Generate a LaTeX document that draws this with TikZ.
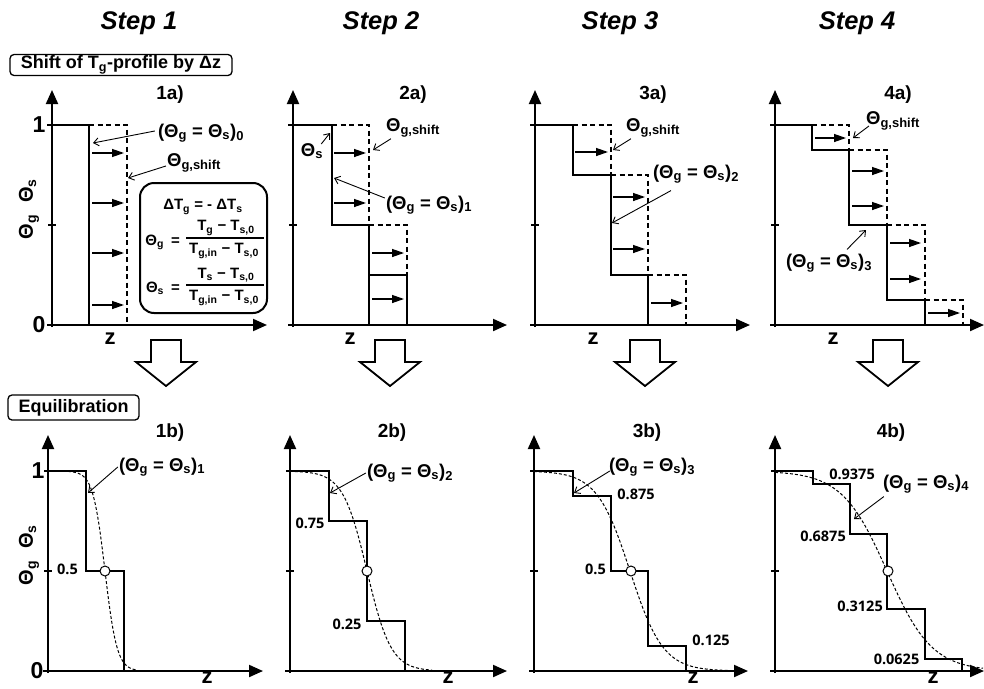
\documentclass[tikz,border=0pt]{standalone}
\usepackage{fontspec}
\setmainfont{Liberation Sans}
\newfontfamily\numfont{Open Sans}
\usetikzlibrary{arrows.meta,calc}
\newcommand{\sbs}[1]{\textsubscript{#1}}
\newcommand{\fsz}[1]{\fontsize{#1}{#1}\selectfont}
\begin{document}
\begin{tikzpicture}[x=1pt,y=-1pt,
  axisln/.style={line width=2pt,-{Triangle[length=14pt,width=12pt]}},
  prof/.style={line width=2pt,line join=miter},
  dprof/.style={line width=1.6pt,dash pattern=on 5pt off 3.5pt},
  shiftarr/.style={line width=1.3pt,-{Triangle[length=12pt,width=8pt]}},
  lblarr/.style={line width=0.9pt,-{Straight Barb[length=5pt,width=8pt]}},
  eqlbl/.style={font=\fsz{18.5}\bfseries,inner sep=1pt},
  plbl/.style={font=\fsz{19}\bfseries,inner sep=0pt},
  steplbl/.style={font=\fsz{25.5}\bfseries\itshape,inner sep=0pt},
  bignum/.style={font=\fsz{23}\bfseries,inner sep=0pt},
  zlbl/.style={font=\fsz{22}\bfseries,inner sep=0pt},
  vallbl/.style={font=\numfont\bfseries\fsz{14.5},inner sep=0pt},
  frm/.style={font=\fsz{15}\bfseries,inner sep=0pt},
  sigm/.style={line width=1pt,dash pattern=on 3pt off 2pt},
  eqpt/.style={circle,draw,fill=white,line width=1pt,minimum size=10pt,inner sep=0pt},
  harrowst/.style={line width=1.8pt,fill=white,line join=miter},
  tickln/.style={line width=1.2pt},
  titlebox/.style={draw,rounded corners=4pt,line width=1.3pt,font=\fsz{18}\bfseries,inner sep=0pt},
  ylab/.style={font=\fsz{20}\bfseries,inner sep=0pt,rotate=90}
]
\useasboundingbox (0,0) rectangle (984,688);
\fill[white] (0,0) rectangle (984,688);

% ---------- headings ----------
\node[steplbl] (st1) at (139,23) {Step 1};
\node[steplbl] (st2) at (381,23) {Step 2};
\node[steplbl] (st3) at (620,23) {Step 3};
\node[steplbl] (st4) at (857,23) {Step 4};
\node[titlebox,minimum width=222pt,minimum height=21pt] (tshift) at (121,65) {Shift of T\sbs{g}-profile by Δz};
\node[titlebox,minimum width=131pt,minimum height=25pt] (tequi) at (73.5,407.5) {Equilibration};

% ---------- axes top ----------
\foreach \ax/\xt in {52/267,293/507,535/750,775/984}{
  \draw[axisln] (\ax,327) -- (\ax,90);
  \draw[axisln] (\ax-5,325) -- (\xt,325);
  \draw[tickln] (\ax-4,225) -- (\ax+4,225);
}
% ---------- axes bottom ----------
\foreach \ax/\xt in {48/263,290/507,534/748,775/984}{
  \draw[axisln] (\ax,673) -- (\ax,435);
  \draw[axisln] (\ax-5,671) -- (\xt,671);
  \draw[tickln] (\ax-4,571) -- (\ax+4,571);
}
\node[bignum] (one1) at (39,125) {1};
\node[bignum] (zero1) at (39,325) {0};
\node[bignum] (one2) at (38,471) {1};
\node[bignum] (zero2) at (37,671) {0};
\node[ylab] (yl1) at (29,209) {Θ\sbs{g}\hspace{12pt}Θ\sbs{s}};
\node[ylab] (yl2) at (29,555) {Θ\sbs{g}\hspace{12pt}Θ\sbs{s}};
\foreach \zx/\nm in {110/za1,350/za2,593/za3,833/za4}{\node[zlbl] (\nm) at (\zx,339) {z};}
\foreach \zx/\nm in {207/zb1,448/zb2,693/zb3,933/zb4}{\node[zlbl] (\nm) at (\zx,678) {z};}

% ---------- hollow arrows ----------
\foreach \cx in {166,390,645,888}{
  \draw[harrowst] (\cx-15,340) -- (\cx+15,340) -- (\cx+15,362) -- (\cx+30,362) -- (\cx,386) -- (\cx-30,362) -- (\cx-15,362) -- cycle;
}

% ================= Panel 1a =================
\draw[prof] (47,125) -- (89,125) -- (89,325);
\draw[dprof] (89,125) -- (127,125) -- (127,325);
\foreach \yy in {153,203,253,305}{\draw[shiftarr] (92,\yy) -- (124,\yy);}
\node[plbl] (p1a) at (170,95) {1a)};
\node[eqlbl] (e1a) at (201,133) {(Θ\sbs{g} = Θ\sbs{s})\sbs{0}};
\coordinate (e1at) at (93,143);
\draw[lblarr] ($(e1a.west)+(-2,-2)$) -- (e1at);
\node[eqlbl] (s1a) at (194,163) {Θ\sbs{g,shift}};
\coordinate (s1at) at (128,178);
\draw[lblarr] ($(s1a.west)+(0,3)$) -- (s1at);
% formula box
\node[draw,rounded corners=14pt,line width=2pt,minimum width=127pt,minimum height=130pt,inner sep=0pt] (fbox) at (203.5,248) {};
\node[frm] (f0) at (203,207) {ΔT\sbs{g} = - ΔT\sbs{s}};
\node[frm,anchor=east] (f1l) at (180,242) {Θ\sbs{g}\hspace{7pt}=};
\node[frm] (f1n) at (226,228) {T\sbs{g} − T\sbs{s,0}};
\node[frm] (f1d) at (224,251) {T\sbs{g,in} − T\sbs{s,0}};
\draw[line width=1.3pt] (186,238) -- (264,238);
\node[frm,anchor=east] (f2l) at (180,288) {Θ\sbs{s}\hspace{7pt}=};
\node[frm] (f2n) at (226,275) {T\sbs{s} − T\sbs{s,0}};
\node[frm] (f2d) at (224,298) {T\sbs{g,in} − T\sbs{s,0}};
\draw[line width=1.3pt] (186,285) -- (264,285);

% ================= Panel 2a =================
\draw[prof] (288,125) -- (332,125) -- (332,225) -- (369,225) -- (369,325);
\draw[prof] (369,275) -- (407,275) -- (407,325);
\draw[dprof] (332,125) -- (369,125) -- (369,225);
\draw[dprof] (369,225) -- (407,225) -- (407,275);
\foreach \yy in {153,203}{\draw[shiftarr] (334,\yy) -- (366,\yy);}
\foreach \yy in {253,299}{\draw[shiftarr] (372,\yy) -- (404,\yy);}
\node[plbl] (p2a) at (413,95) {2a)};
\node[eqlbl] (s2a) at (413,128) {Θ\sbs{g,shift}};
\coordinate (s2at) at (373,150);
\draw[lblarr] ($(s2a.south west)+(6,0)$) -- (s2at);
\node[eqlbl] (ts2a) at (312,151) {Θ\sbs{s}};
\coordinate (ts2at) at (330,133);
\draw[lblarr] ($(ts2a.north east)+(-3,2)$) -- (ts2at);
\node[eqlbl] (e2a) at (429,205) {(Θ\sbs{g} = Θ\sbs{s})\sbs{1}};
\coordinate (e2at) at (334,178);
\draw[lblarr] ($(e2a.west)+(0,-7)$) -- (e2at);

% ================= Panel 3a =================
\draw[prof] (530,125) -- (573,125) -- (573,175) -- (611,175) -- (611,275) -- (648,275) -- (648,325);
\draw[dprof] (573,125) -- (611,125) -- (611,175);
\draw[dprof] (611,175) -- (648,175) -- (648,275);
\draw[dprof] (648,275) -- (686,275) -- (686,325);
\draw[shiftarr] (575,152) -- (608,152);
\foreach \yy in {197,249}{\draw[shiftarr] (613,\yy) -- (645,\yy);}
\draw[shiftarr] (651,303) -- (683,303);
\node[plbl] (p3a) at (653,95) {3a)};
\node[eqlbl] (s3a) at (653,128) {Θ\sbs{g,shift}};
\coordinate (s3at) at (613,150);
\draw[lblarr] ($(s3a.south west)+(6,0)$) -- (s3at);
\node[eqlbl] (e3a) at (696,174) {(Θ\sbs{g} = Θ\sbs{s})\sbs{2}};
\coordinate (e3at) at (612,223);
\draw[lblarr] ($(e3a.south)+(-25,6)$) -- (e3at);

% ================= Panel 4a =================
\draw[prof] (770,125) -- (812,125) -- (812,150) -- (849,150) -- (849,225) -- (887,225) -- (887,300) -- (925,300) -- (925,325);
\draw[dprof] (812,125) -- (849,125) -- (849,150);
\draw[dprof] (849,150) -- (887,150) -- (887,225);
\draw[dprof] (887,225) -- (925,225) -- (925,300);
\draw[dprof] (925,300) -- (963,300) -- (963,325);
\draw[shiftarr] (815,138) -- (846,138);
\foreach \yy in {171,206}{\draw[shiftarr] (852,\yy) -- (884,\yy);}
\foreach \yy in {243,279}{\draw[shiftarr] (890,\yy) -- (921,\yy);}
\draw[shiftarr] (928,313) -- (960,313);
\node[plbl] (p4a) at (898,95) {4a)};
\node[eqlbl] (s4a) at (893,121) {Θ\sbs{g,shift}};
\coordinate (s4at) at (853,138);
\draw[lblarr] ($(s4a.west)+(4,5)$) -- (s4at);
\node[eqlbl] (e4a) at (829,263) {(Θ\sbs{g} = Θ\sbs{s})\sbs{3}};
\coordinate (e4at) at (866,230);
\draw[lblarr] ($(e4a.north)+(18,-3)$) -- (e4at);

% ================= Panel 1b =================
\draw[prof] (44,471) -- (86,471) -- (86,571) -- (124,571) -- (124,671);
\draw[sigm] plot[domain=48:137,samples=80] (\x,{671-200*(0.5-0.5*tanh((\x-105)/12))});
\node[eqpt] (c1) at (105,571) {};
\node[plbl] (p1b) at (170,433) {1b)};
\node[eqlbl] (e1b) at (162,467) {(Θ\sbs{g} = Θ\sbs{s})\sbs{1}};
\coordinate (e1bt) at (88,493);
\draw[lblarr] (e1b.west) -- (e1bt);
\node[vallbl] (v1b) at (67.5,569) {0.5};

% ================= Panel 2b =================
\draw[prof] (286,471) -- (329,471) -- (329,521) -- (367,521) -- (367,621) -- (405,621) -- (405,671);
\draw[sigm] plot[domain=290:432,samples=100] (\x,{671-200*(0.5-0.5*tanh((\x-367)/24))});
\node[eqpt] (c2) at (367,571) {};
\node[plbl] (p2b) at (392,433) {2b)};
\node[eqlbl] (e2b) at (410,473) {(Θ\sbs{g} = Θ\sbs{s})\sbs{2}};
\coordinate (e2bt) at (330,493);
\draw[lblarr] (e2b.west) -- (e2bt);
\node[vallbl] (v2a) at (310,523) {0.75};
\node[vallbl] (v2b) at (347,624) {0.25};

% ================= Panel 3b =================
\draw[prof] (530,471) -- (573,471) -- (573,496) -- (611,496) -- (611,571) -- (648,571) -- (648,646) -- (686,646) -- (686,671);
\draw[sigm] plot[domain=534:742,samples=120] (\x,{671-200*(0.5-0.5*tanh((\x-630)/33))});
\node[eqpt] (c3) at (631,571) {};
\node[plbl] (p3b) at (647,433) {3b)};
\node[eqlbl] (e3b) at (652,467) {(Θ\sbs{g} = Θ\sbs{s})\sbs{3}};
\coordinate (e3bt) at (574,493);
\draw[lblarr] ($(e3b.west)+(2,4)$) -- (e3bt);
\node[vallbl] (v3a) at (636,494) {0.875};
\node[vallbl] (v3b) at (595.5,569) {0.5};
\node[vallbl] (v3c) at (711,640) {0.125};

% ================= Panel 4b =================
\draw[prof] (771,471) -- (813,471) -- (813,483.5) -- (850,483.5) -- (850,533.5) -- (887,533.5) -- (887,608.5) -- (925,608.5) -- (925,658.5) -- (962,658.5) -- (962,671);
\draw[sigm] plot[domain=775:983,samples=120] (\x,{671-200*(0.5-0.5*tanh((\x-887)/45))});
\node[eqpt] (c4) at (888,571) {};
\node[plbl] (p4b) at (891,433) {4b)};
\node[eqlbl] (e4b) at (926,484) {(Θ\sbs{g} = Θ\sbs{s})\sbs{4}};
\coordinate (e4bt) at (854,519);
\draw[lblarr] ($(e4b.south west)+(2,2)$) -- (e4bt);
\node[vallbl] (v4a) at (852,474) {0.9375};
\node[vallbl] (v4b) at (823,536) {0.6875};
\node[vallbl] (v4c) at (860,606) {0.3125};
\node[vallbl] (v4d) at (896.5,659) {0.0625};
\end{tikzpicture}
\end{document}
